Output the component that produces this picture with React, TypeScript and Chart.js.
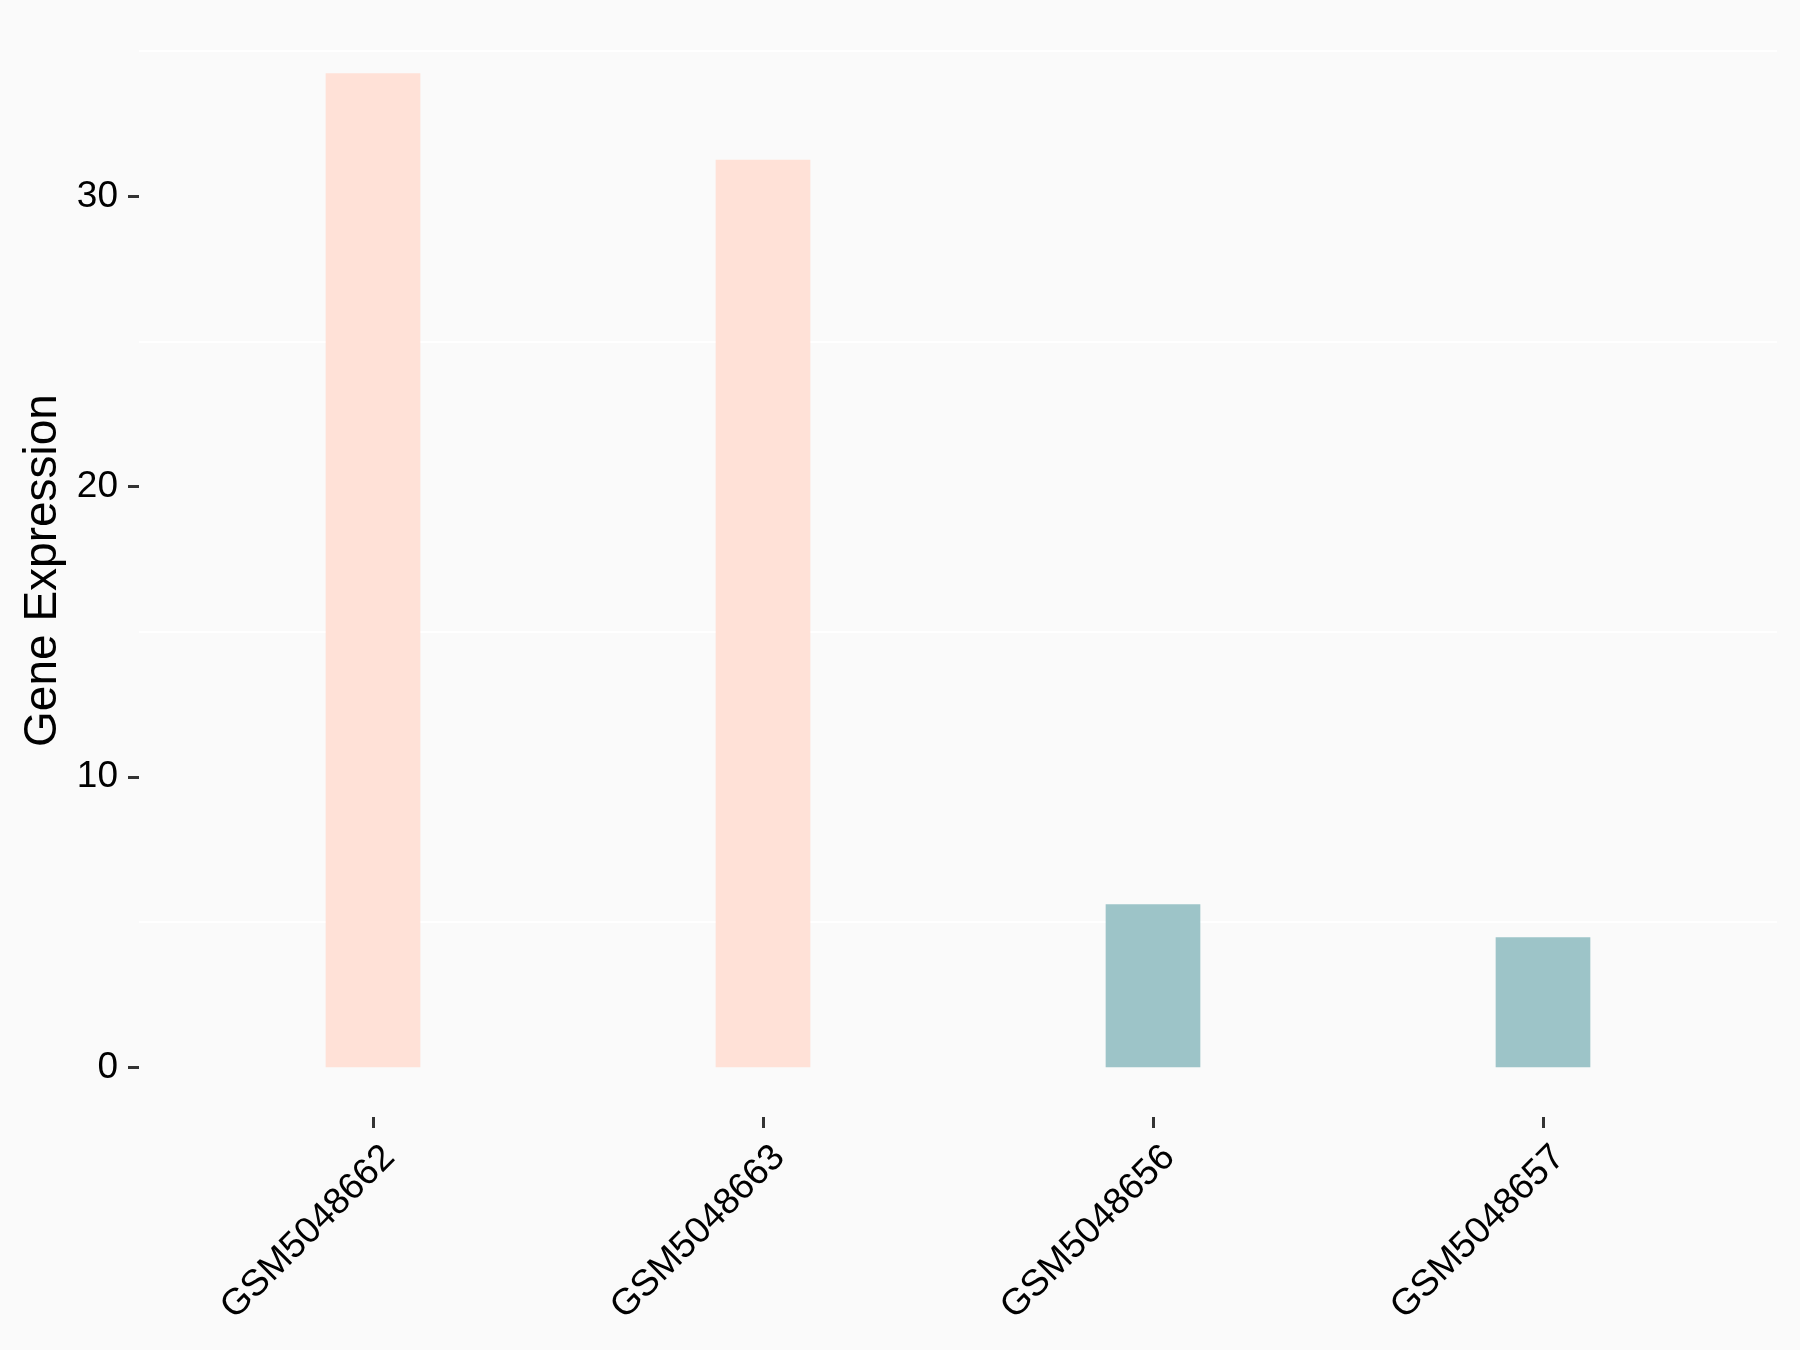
import React, { useEffect, useRef } from "react";
import { Chart, registerables } from "chart.js";

Chart.register(...registerables);

const categories = ["GSM5048662", "GSM5048663", "GSM5048656", "GSM5048657"];
const positions = [1, 2, 3, 4];
const expression = [34.23, 31.25, 5.61, 4.47];
const barColors = ["#FFE1D7", "#FFE1D7", "#9DC4C8", "#9DC4C8"];
const yTicks = [0, 10, 20, 30];
const yMinorGrid = [5, 15, 25, 35];
const yMin = -1.71;
const yMax = 35.94;
const xMin = 0.4;
const xMax = 4.6;

const FONT = "'Liberation Sans', Arial, sans-serif";

export default function App() {
  const ref = useRef<HTMLCanvasElement | null>(null);

  useEffect(() => {
    document.body.style.margin = "0";
    document.body.style.background = "#FAFAFA";
    const canvas = ref.current;
    if (!canvas) return;
    const chart = new Chart(canvas, {
      type: "bar",
      data: {
        datasets: [
          {
            data: positions.map((p, i) => ({ x: p, y: expression[i] })),
            backgroundColor: barColors,
            borderWidth: 0,
            barThickness: 94,
          },
        ],
      },
      options: {
        responsive: false,
        animation: false,
        layout: { padding: { left: 0, right: 23, top: 24, bottom: 0 } },
        plugins: { legend: { display: false }, tooltip: { enabled: false } },
        scales: {
          x: {
            type: "linear",
            offset: false,
            min: xMin,
            max: xMax,
            afterBuildTicks: (ax: any) => {
              ax.ticks = positions.map((v) => ({ value: v }));
            },
            afterFit: (ax: any) => {
              ax.height = 233;
              ax.paddingLeft = 0;
              ax.paddingRight = 0;
            },
            ticks: {
              callback: (v: any) => {
                const i = positions.indexOf(Number(v));
                return i >= 0 ? categories[i] : "";
              },
              minRotation: 45,
              maxRotation: 45,
              autoSkip: false,
              color: "#000000",
              font: { family: FONT, size: 37 },
              padding: 8,
              labelOffset: 16,
            },
            grid: {
              display: true,
              offset: false,
              drawOnChartArea: false,
              drawTicks: true,
              tickLength: 11,
              tickColor: "#333333",
              tickWidth: 3,
            },
            border: { display: false },
          },
          y: {
            type: "linear",
            position: "left",
            min: yMin,
            max: yMax,
            afterBuildTicks: (ax: any) => {
              ax.ticks = yTicks.map((v) => ({ value: v }));
            },
            afterFit: (ax: any) => {
              ax.width = 139;
              ax.paddingTop = 0;
              ax.paddingBottom = 0;
            },
            ticks: {
              color: "#000000",
              font: { family: FONT, size: 37 },
              padding: 10,
            },
            grid: {
              display: true,
              drawOnChartArea: false,
              drawTicks: true,
              tickLength: 11,
              tickColor: "#333333",
              tickWidth: 3,
            },
            border: { display: false },
            title: {
              display: true,
              text: "Gene Expression",
              color: "#000000",
              font: { family: FONT, size: 46 },
              padding: { top: 16, bottom: 0 },
            },
          },
          yGrid: {
            type: "linear",
            position: "left",
            display: true,
            min: yMin,
            max: yMax,
            afterBuildTicks: (ax: any) => {
              ax.ticks = yMinorGrid.map((v) => ({ value: v }));
            },
            afterFit: (ax: any) => {
              ax.width = 0;
              ax.paddingTop = 0;
              ax.paddingBottom = 0;
            },
            ticks: { display: false },
            grid: {
              display: true,
              drawOnChartArea: true,
              drawTicks: false,
              color: "#FFFFFF",
              lineWidth: 2,
            },
            border: { display: false },
          },
        },
      },
    } as any);
    return () => chart.destroy();
  }, []);

  return (
    <div style={{ width: 1800, height: 1350, background: "#FAFAFA" }}>
      <canvas ref={ref} width={1800} height={1350} style={{ display: "block" }} />
    </div>
  );
}
